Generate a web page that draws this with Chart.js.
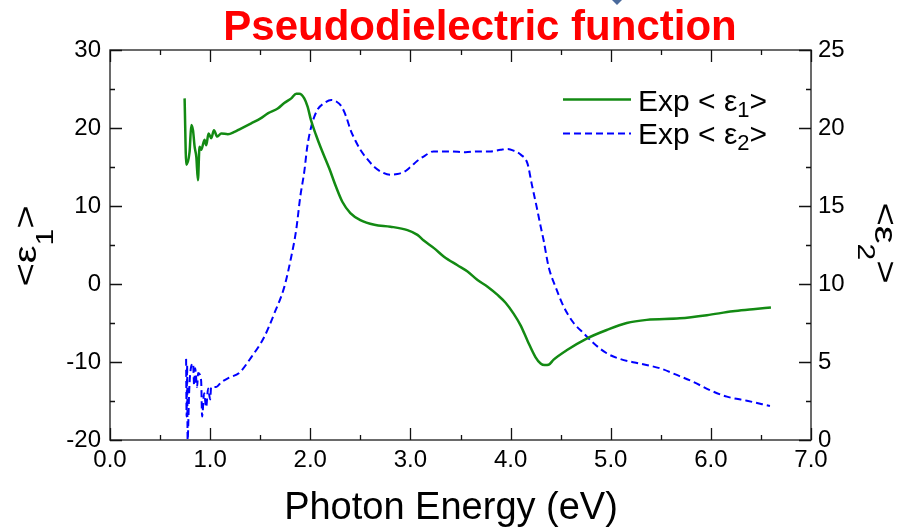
<!DOCTYPE html>
<html>
<head>
<meta charset="utf-8">
<script src="https://cdn.jsdelivr.net/npm/chart.js@4.4.1/dist/chart.umd.min.js"></script>
<style>
  html, body { margin: 0; padding: 0; background: #ffffff; }
  #wrap { width: 900px; height: 529px; position: relative; }
</style>
</head>
<body>
<div id="wrap"><canvas id="c" width="900" height="529"></canvas></div>
<script>
// Photon energy (eV) and measured <e1>
const energyE1 = [0.745, 0.762, 0.795, 0.812, 0.829, 0.845, 0.862, 0.878, 0.894, 0.911,
  0.944, 0.961, 0.984, 1.011, 1.038, 1.071, 1.111, 1.177, 1.243, 1.303,
  1.41, 1.50, 1.58, 1.675, 1.74, 1.81, 1.86, 1.89, 1.94, 1.974,
  2.007, 2.057, 2.107, 2.19, 2.256, 2.32, 2.40, 2.50, 2.64, 2.80,
  2.97, 3.07, 3.13, 3.235, 3.335, 3.47, 3.57, 3.67, 3.77, 3.87,
  3.95, 4.03, 4.10, 4.17, 4.25, 4.30, 4.34, 4.38, 4.43, 4.56,
  4.76, 4.96, 5.16, 5.36, 5.69, 5.96, 6.22, 6.42, 6.60];
const eps1 = [23.8, 15.3, 17.0, 20.4, 19.7, 17.6, 16.3, 13.3, 17.6, 17.2,
  18.5, 17.8, 19.3, 18.7, 19.7, 18.9, 19.3, 19.2, 19.5, 19.9,
  20.6, 21.2, 21.9, 22.5, 23.2, 23.8, 24.4, 24.4, 23.8, 22.7,
  21.0, 19.1, 17.4, 14.8, 12.5, 10.55, 9.1, 8.2, 7.6, 7.35,
  6.9, 6.3, 5.6, 4.6, 3.5, 2.4, 1.6, 0.5, -0.35, -1.4,
  -2.4, -3.8, -5.3, -7.3, -9.4, -10.2, -10.4, -10.35, -9.7, -8.5,
  -7.0, -5.9, -5.0, -4.6, -4.4, -4.0, -3.5, -3.25, -3.0];

// Photon energy (eV) and measured <e2>
const energyE2 = [0.760, 0.765, 0.770, 0.775, 0.790, 0.800, 0.830, 0.840, 0.850, 0.870,
  0.880, 0.910, 0.920, 0.940, 0.960, 0.980, 1.000, 1.010, 1.060, 1.110,
  1.190, 1.290, 1.41, 1.54, 1.64, 1.74, 1.81, 1.86, 1.90, 1.94,
  1.97, 2.01, 2.07, 2.14, 2.21, 2.26, 2.31, 2.36, 2.40, 2.45,
  2.50, 2.57, 2.64, 2.72, 2.80, 2.87, 2.94, 3.00, 3.07, 3.15,
  3.23, 3.40, 3.55, 3.67, 3.80, 3.90, 3.97, 4.03, 4.10, 4.17,
  4.21, 4.26, 4.30, 4.33, 4.38, 4.45, 4.53, 4.63, 4.73, 4.83,
  4.96, 5.09, 5.29, 5.49, 5.66, 5.82, 5.99, 6.16, 6.36, 6.59];
const eps2 = [5.2, 1.5, 4.8, 0.0, 3.0, 4.2, 4.9, 3.5, 4.6, 3.4,
  4.3, 3.8, 1.5, 3.0, 2.1, 3.3, 2.6, 3.4, 3.4, 3.7,
  4.0, 4.3, 5.3, 6.6, 8.1, 9.8, 11.75, 13.5, 15.6, 17.2,
  18.8, 20.1, 21.15, 21.6, 21.8, 21.7, 21.4, 20.7, 19.9, 19.2,
  18.6, 18.0, 17.5, 17.15, 17.0, 17.05, 17.2, 17.5, 17.9, 18.25,
  18.5, 18.5, 18.45, 18.5, 18.5, 18.6, 18.65, 18.55, 18.3, 17.7,
  16.45, 14.96, 13.7, 12.8, 11.1, 9.8, 8.55, 7.5, 6.84, 6.2,
  5.56, 5.2, 4.9, 4.6, 4.17, 3.74, 3.2, 2.78, 2.52, 2.18];

// Axis ranges and tick steps
const xRange = [0, 7];
const xMajorStep = 1, xMinorStep = 0.5;
const e1Range = [-20, 30];
const e1MajorStep = 10, e1MinorStep = 5;
const e2Range = [0, 25];
const e2MajorStep = 5, e2MinorStep = 2.5;

const seriesLabels = ['Exp < \u03B5', 'Exp < \u03B5'];
const seriesSubs = ['1', '2'];
const titleText = 'Pseudodielectric function';
const xTitle = 'Photon Energy (eV)';

const GREEN = '#138a13';
const BLUE = '#0000ff';
const DASH = [7, 4];
const FONT = '"Liberation Sans", Arial, Helvetica, sans-serif';

const toPoints = (xs, ys) => xs.map((x, i) => ({ x, y: ys[i] }));

function drawRich(ctx, parts, size, subSize, subDrop, x, y, align) {
  const widths = parts.map(([t, sub]) => {
    ctx.font = `${sub ? subSize : size}px ${FONT}`;
    return ctx.measureText(t).width;
  });
  const total = widths.reduce((a, b) => a + b, 0);
  let cx = align === 'center' ? x - total / 2 : x;
  ctx.textAlign = 'left';
  ctx.textBaseline = 'alphabetic';
  parts.forEach(([t, sub], i) => {
    ctx.font = `${sub ? subSize : size}px ${FONT}`;
    ctx.fillText(t, cx, sub ? y + subDrop : y);
    cx += widths[i];
  });
}

function range(a, b, step) {
  const out = [];
  for (let v = a; v <= b + 1e-9; v += step) out.push(+v.toFixed(6));
  return out;
}

const decorPlugin = {
  id: 'decor',
  afterDraw(chart) {
    const { ctx, chartArea: ca, scales } = chart;
    const sx = scales.x, sy = scales.y, sy2 = scales.y2;
    ctx.save();

    // frame
    ctx.strokeStyle = '#3a3a3a';
    ctx.lineWidth = 1.5;
    ctx.strokeRect(ca.left, ca.top, ca.right - ca.left, ca.bottom - ca.top);

    // inward ticks
    ctx.strokeStyle = '#111';
    ctx.lineWidth = 1.3;
    const MAJ = 12, MIN = 5;
    ctx.beginPath();
    range(xRange[0], xRange[1], xMinorStep).forEach(v => {
      const px = Math.round(sx.getPixelForValue(v)) + 0.5;
      const len = Math.abs(v / xMajorStep - Math.round(v / xMajorStep)) < 1e-6 ? MAJ : MIN;
      ctx.moveTo(px, ca.bottom); ctx.lineTo(px, ca.bottom - len);
      ctx.moveTo(px, ca.top); ctx.lineTo(px, ca.top + len);
    });
    range(e1Range[0], e1Range[1], e1MinorStep).forEach(v => {
      const py = Math.round(sy.getPixelForValue(v)) + 0.5;
      const len = v % e1MajorStep === 0 ? MAJ : MIN;
      ctx.moveTo(ca.left, py); ctx.lineTo(ca.left + len, py);
    });
    range(e2Range[0], e2Range[1], e2MinorStep).forEach(v => {
      const py = Math.round(sy2.getPixelForValue(v)) + 0.5;
      const len = Math.abs(v / e2MajorStep - Math.round(v / e2MajorStep)) < 1e-6 ? MAJ : MIN;
      ctx.moveTo(ca.right, py); ctx.lineTo(ca.right - len, py);
    });
    ctx.stroke();

    // heading
    ctx.fillStyle = '#ff0000';
    ctx.font = `bold 42px ${FONT}`;
    ctx.textAlign = 'center';
    ctx.textBaseline = 'alphabetic';
    ctx.fillText(titleText, 480, 40);

    // small marker above the heading
    ctx.fillStyle = '#4a6a9c';
    ctx.beginPath();
    ctx.moveTo(612, 0); ctx.lineTo(622, 0); ctx.lineTo(617, 5); ctx.closePath();
    ctx.fill();

    // x axis title
    ctx.fillStyle = '#000';
    ctx.font = `38px ${FONT}`;
    ctx.textAlign = 'center';
    ctx.fillText(xTitle, 451, 519);

    // left axis title <e1>
    ctx.save();
    ctx.translate(36, 246);
    ctx.rotate(-Math.PI / 2);
    ctx.scale(1.25, 1);
    drawRich(ctx, [['<\u03B5', false], ['1', true], ['>', false]], 32, 24, 17, 0, 0, 'center');
    ctx.restore();

    // right axis title <e2>
    ctx.save();
    ctx.translate(875, 243);
    ctx.rotate(Math.PI / 2);
    ctx.scale(1.25, 1);
    drawRich(ctx, [['<\u03B5', false], ['2', true], ['>', false]], 32, 24, 17, 0, 0, 'center');
    ctx.restore();

    // legend
    const rows = [
      { y: 99.5, base: 110.7, color: GREEN, dash: [], width: 2.5 },
      { y: 133.5, base: 144, color: BLUE, dash: DASH, width: 2 }
    ];
    rows.forEach((r, i) => {
      ctx.strokeStyle = r.color;
      ctx.lineWidth = r.width;
      ctx.setLineDash(r.dash);
      ctx.beginPath();
      ctx.moveTo(563, r.y); ctx.lineTo(631, r.y);
      ctx.stroke();
      ctx.setLineDash([]);
      ctx.fillStyle = '#000';
      drawRich(ctx, [[seriesLabels[i], false], [seriesSubs[i], true], ['>', false]], 30, 22, 6, 638, r.base, 'left');
    });

    ctx.restore();
  }
};

const tickFont = { family: FONT, size: 24 };
const noGrid = { display: false, drawTicks: false };

new Chart(document.getElementById('c'), {
  type: 'line',
  data: {
    datasets: [
      {
        label: 'Exp <e1>',
        data: toPoints(energyE1, eps1),
        yAxisID: 'y',
        borderColor: GREEN,
        borderWidth: 2.5,
        pointRadius: 0,
        cubicInterpolationMode: 'monotone',
        fill: false
      },
      {
        label: 'Exp <e2>',
        data: toPoints(energyE2, eps2),
        yAxisID: 'y2',
        borderColor: BLUE,
        borderWidth: 2,
        borderDash: DASH,
        pointRadius: 0,
        cubicInterpolationMode: 'monotone',
        fill: false
      }
    ]
  },
  options: {
    responsive: false,
    animation: false,
    devicePixelRatio: 1,
    layout: { padding: { top: 50, left: 0, right: 0, bottom: 0 } },
    plugins: { legend: { display: false }, title: { display: false }, tooltip: { enabled: false } },
    scales: {
      x: {
        type: 'linear',
        min: xRange[0], max: xRange[1],
        grid: noGrid,
        border: { display: false },
        ticks: {
          stepSize: xMajorStep,
          color: '#000',
          font: tickFont,
          padding: 6,
          maxRotation: 0,
          autoSkip: false,
          callback: v => Number(v).toFixed(1)
        },
        afterFit: s => { s.height = 89; }
      },
      y: {
        type: 'linear',
        position: 'left',
        min: e1Range[0], max: e1Range[1],
        grid: noGrid,
        border: { display: false },
        ticks: { stepSize: e1MajorStep, color: '#000', font: tickFont, padding: 9 },
        afterFit: s => { s.width = 110; }
      },
      y2: {
        type: 'linear',
        position: 'right',
        min: e2Range[0], max: e2Range[1],
        grid: noGrid,
        border: { display: false },
        ticks: { stepSize: e2MajorStep, color: '#000', font: tickFont, padding: 7 },
        afterFit: s => { s.width = 89; }
      }
    }
  },
  plugins: [decorPlugin]
});
</script>
</body>
</html>
